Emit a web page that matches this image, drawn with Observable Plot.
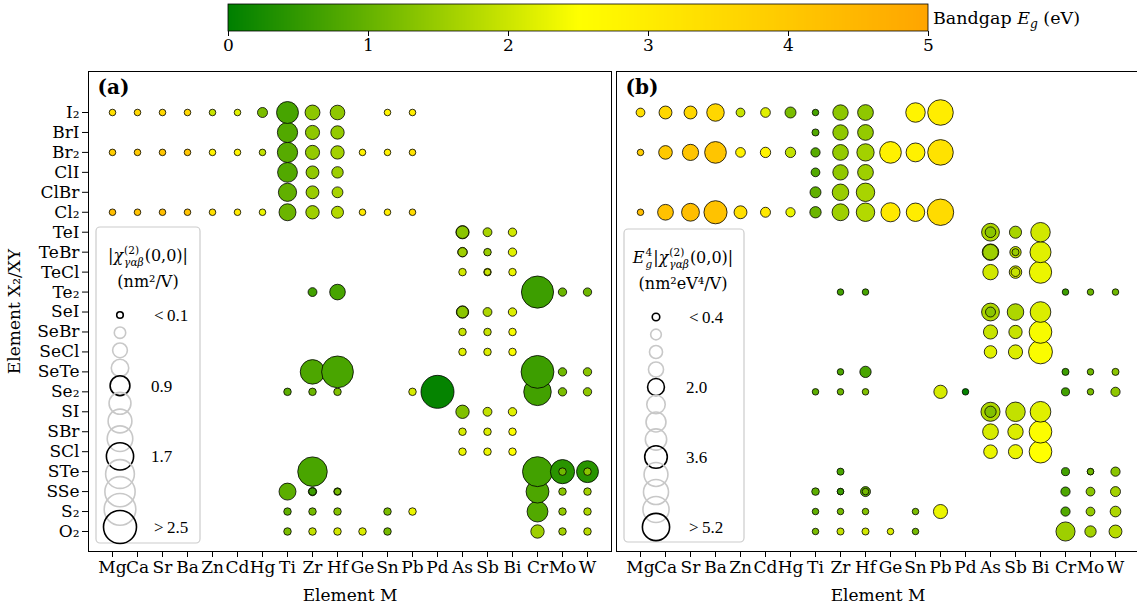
<!DOCTYPE html>
<html><head><meta charset="utf-8">
<script src="https://cdn.jsdelivr.net/npm/d3@7"></script>
<script src="https://cdn.jsdelivr.net/npm/@observablehq/plot@0.6"></script>
<style>
html,body{margin:0;padding:0;background:#fff;overflow:hidden;}
#wrap{position:relative;width:1137px;height:606px;overflow:hidden;background:#fff;font-family:"DejaVu Serif",serif;}
.abs{position:absolute;top:0;}
#cblabel{position:absolute;left:933px;top:10px;font-size:17.5px;line-height:1;white-space:nowrap;}
#cblabel sub{font-size:0.7em;vertical-align:-0.3em;line-height:0;}
</style></head>
<body><div id="wrap"><div id="cblabel">Bandgap <i>E</i><sub><i>g</i></sub> (eV)</div></div>
<script>
// ---- categories ----
const colsM = ["Mg","Ca","Sr","Ba","Zn","Cd","Hg","Ti","Zr","Hf","Ge","Sn","Pb","Pd","As","Sb","Bi","Cr","Mo","W"];
const rowsXY = ["I₂","BrI","Br₂","ClI","ClBr","Cl₂","TeI","TeBr","TeCl","Te₂","SeI","SeBr","SeCl","SeTe","Se₂","SI","SBr","SCl","STe","SSe","S₂","O₂"];

// ---- points (one entry per compound / phase) ----
const pointM = [
  "Mg","Ca","Sr","Ba","Zn","Cd","Hg","Ti","Zr","Hf","Sn","Pb",
  "Ti","Zr","Hf",
  "Mg","Ca","Sr","Ba","Zn","Cd","Hg","Ti","Zr","Hf","Ge","Sn","Pb",
  "Ti","Zr","Hf",
  "Ti","Zr","Hf",
  "Mg","Ca","Sr","Ba","Zn","Cd","Hg","Ti","Zr","Hf","Ge","Sn","Pb",
  "As","As","Sb","Bi",
  "As","As","Sb","Sb","Bi",
  "As","Sb","Sb","Bi",
  "Zr","Hf","Cr","Mo","W",
  "As","As","Sb","Bi",
  "As","Sb","Bi",
  "As","Sb","Bi",
  "Zr","Hf","Cr","Mo","W",
  "Ti","Zr","Hf","Pb","Pd","Cr","Mo","W",
  "As","As","Sb","Bi",
  "As","Sb","Bi",
  "As","Sb","Bi",
  "Zr","Cr","Mo","Mo","W","W",
  "Ti","Zr","Zr","Hf","Hf","Cr","Mo","W",
  "Ti","Zr","Hf","Sn","Pb","Cr","Mo","W",
  "Ti","Zr","Hf","Ge","Sn","Cr","Mo","W"
];
const pointXY = [
  "I₂","I₂","I₂","I₂","I₂","I₂","I₂","I₂","I₂","I₂","I₂","I₂",
  "BrI","BrI","BrI",
  "Br₂","Br₂","Br₂","Br₂","Br₂","Br₂","Br₂","Br₂","Br₂","Br₂","Br₂","Br₂","Br₂",
  "ClI","ClI","ClI",
  "ClBr","ClBr","ClBr",
  "Cl₂","Cl₂","Cl₂","Cl₂","Cl₂","Cl₂","Cl₂","Cl₂","Cl₂","Cl₂","Cl₂","Cl₂","Cl₂",
  "TeI","TeI","TeI","TeI",
  "TeBr","TeBr","TeBr","TeBr","TeBr",
  "TeCl","TeCl","TeCl","TeCl",
  "Te₂","Te₂","Te₂","Te₂","Te₂",
  "SeI","SeI","SeI","SeI",
  "SeBr","SeBr","SeBr",
  "SeCl","SeCl","SeCl",
  "SeTe","SeTe","SeTe","SeTe","SeTe",
  "Se₂","Se₂","Se₂","Se₂","Se₂","Se₂","Se₂","Se₂",
  "SI","SI","SI","SI",
  "SBr","SBr","SBr",
  "SCl","SCl","SCl",
  "STe","STe","STe","STe","STe","STe",
  "SSe","SSe","SSe","SSe","SSe","SSe","SSe","SSe",
  "S₂","S₂","S₂","S₂","S₂","S₂","S₂","S₂",
  "O₂","O₂","O₂","O₂","O₂","O₂","O₂","O₂"
];
// bandgap Eg (eV) -> colour
const pointEg = [
  3.4,3.6,3.6,3.6,1.95,2.2,1.2,0.7,1.38,1.4,2.8,3.0,
  0.8,1.4,1.45,
  3.9,4.0,4.1,4.1,2.85,2.8,1.9,0.85,1.45,1.6,2.9,2.9,3.3,
  0.8,1.42,1.55,
  0.95,1.5,1.65,
  4.3,4.2,4.3,4.2,3.4,3.1,2.3,1.05,1.55,1.75,3.1,3.0,3.5,
  1.7,1.35,1.65,2.05,
  1.65,1.55,1.9,1.5,2.2,
  2.05,2.1,1.95,2.3,
  0.65,0.7,0.6,1.05,1.08,
  1.7,1.35,1.7,2.15,
  1.95,1.95,2.42,
  2.2,2.15,2.45,
  0.75,0.72,0.6,1.1,1.35,
  0.9,1.05,1.25,2.1,0.05,0.65,1.2,1.4,
  1.7,1.25,1.9,2.2,
  2.1,2.15,2.47,
  2.3,2.3,2.5,
  0.72,0.65,0.4,1.1,0.4,1.35,
  0.9,1.1,0.6,0.9,1.15,0.75,1.35,1.6,
  0.95,1.15,1.3,1.2,2.3,0.8,1.45,1.7,
  1.2,1.9,2.05,2.15,1.15,1.55,1.6,1.8
];
// panel (a): |chi(2)(0,0)| (nm^2/V)
const pointChi = [
  0.1,0.1,0.1,0.1,0.1,0.1,0.23,1.10,0.51,0.49,0.1,0.1,
  0.94,0.46,0.41,
  0.1,0.1,0.1,0.1,0.1,0.1,0.1,0.94,0.46,0.41,0.1,0.1,0.1,
  0.90,0.38,0.30,
  0.76,0.38,0.27,
  0.1,0.1,0.1,0.1,0.1,0.1,0.1,0.66,0.41,0.33,0.1,0.1,0.1,
  0.40,0.36,0.18,0.16,
  0.21,0.19,0.1,0.13,0.16,
  0.13,0.13,0.1,0.13,
  0.18,0.56,2.37,0.16,0.16,
  0.35,0.31,0.18,0.16,
  0.13,0.13,0.13,
  0.13,0.13,0.13,
  1.38,2.32,2.47,0.16,0.16,
  0.13,0.13,0.13,0.13,2.6,1.74,0.16,0.16,
  0.3,0.41,0.18,0.16,
  0.13,0.13,0.13,
  0.13,0.13,0.13,
  2.0,2.06,1.34,0.13,1.10,0.13,
  0.66,0.16,0.13,0.13,0.1,1.2,0.13,0.13,
  0.13,0.13,0.13,0.13,0.13,1.0,0.13,0.13,
  0.13,0.13,0.13,0.13,0.13,0.41,0.13,0.13
];
// panel (b): Eg^4 |chi(2)(0,0)| (nm^2 eV^4/V)
const pointChiEg4 = [
  0.54,1.17,1.17,2.15,0.54,0.66,0.85,0.3,1.66,1.74,2.67,4.6,
  0.35,1.66,1.74,
  0.3,1.30,1.84,3.3,0.66,0.75,0.75,0.6,1.74,2.1,3.3,2.5,4.6,
  0.54,1.66,1.74,
  0.85,1.92,2.39,
  0.3,1.74,2.23,3.76,1.17,0.7,0.6,0.9,2.0,2.39,2.57,2.39,4.9,
  2.23,0.8,1.03,2.67,
  1.92,1.7,0.9,0.35,3.1,
  1.66,1.1,0.54,3.5,
  0.3,0.3,0.3,0.3,0.3,
  2.23,0.7,1.92,3.0,
  1.4,1.24,3.6,
  1.1,1.4,4.0,
  0.3,0.9,0.35,0.3,0.35,
  0.3,0.3,0.3,1.24,0.3,0.45,0.3,0.6,
  2.57,0.9,2.67,3.0,
  1.74,1.66,3.6,
  1.3,1.4,3.6,
  0.35,0.45,0.3,0.3,0.3,0.6,
  0.4,0.3,0.3,0.7,0.3,0.6,0.54,0.7,
  0.3,0.3,0.3,0.3,1.4,0.6,0.54,0.8,
  0.3,0.35,0.35,0.3,0.3,2.57,0.9,1.17
];

// ---- legends ----
const legendValuesA = [0.1,0.3,0.5,0.7,0.9,1.1,1.3,1.5,1.7,1.9,2.1,2.3,2.5];
const legendLabelsA = ["<\u20090.1","","","","0.9","","","","1.7","","","",">\u20092.5"];
const legendValuesB = [0.4,0.8,1.2,1.6,2.0,2.4,2.8,3.2,3.6,4.0,4.4,4.8,5.2];
const legendLabelsB = ["<\u20090.4","","","","2.0","","","","3.6","","","",">\u20095.2"];
const colorTicks = [0,1,2,3,4,5];

// ---- build table ----
const rowIndex = new Map(rowsXY.map((r, i) => [r, i]));
const table = pointM.map((m, i) => ({M: m, XY: pointXY[i], row: rowIndex.get(pointXY[i]), Eg: pointEg[i], chi: pointChi[i], chiEg4: pointChiEg4[i], order: i}));
table.sort((a, b) => b.row - a.row || a.order - b.order);

const colorScale = {type: "linear", domain: [0, 2.5, 5], range: ["#008000", "#ffff00", "#ffa500"], interpolate: "rgb", clamp: true};
const rA = {type: "sqrt", domain: [0, 2.5], range: [0, 16.5], clamp: true};
const rB = {type: "sqrt", domain: [0, 5.2], range: [0, 13.6], clamp: true};

function panel({w, mL, mR, rScale, field, tag, showY}) {
  // row index scale: row 0 sits 2.05 rows below the frame top, last row 1 row above the frame bottom
  const yBase = {type: "linear", domain: [rowsXY.length - 1 + 1.0025, -2.055]};
  return Plot.plot({
    width: w, height: 606,
    marginTop: 71, marginBottom: 55, marginLeft: mL, marginRight: mR,
    style: {fontFamily: '"DejaVu Serif", serif', fontSize: "17px", background: "transparent", color: "black", overflow: "visible"},
    x: {type: "point", domain: colsM, padding: 0, insetLeft: 23.7, insetRight: 24, tickSize: 6, tickPadding: 3, label: "Element M", labelAnchor: "center", labelOffset: 49},
    y: showY ? {...yBase, ticks: rowsXY.map((_, i) => i), tickFormat: i => rowsXY[i], tickSize: 6, tickPadding: 3,
                label: "Element X₂/XY", labelAnchor: "center", labelOffset: 81, labelArrow: "none"} : {...yBase, axis: null},
    r: rScale,
    color: colorScale,
    marks: [
      Plot.frame({stroke: "black", strokeWidth: 1}),
      Plot.dot(table, {x: "M", y: "row", r: field, fill: d => d.Eg, stroke: "black", strokeWidth: 0.8, sort: null}),
      Plot.text([tag], {text: d => d, frameAnchor: "top-left", dx: 9, dy: 8, lineAnchor: "top", textAnchor: "start", fontWeight: "bold", fontSize: 20})
    ]
  });
}

const wrap = document.getElementById("wrap");
const plotA = panel({w: 613, mL: 88, mR: 2, rScale: rA, field: "chi", tag: "(a)", showY: true});
const plotB = panel({w: 528, mL: 3, mR: 2, rScale: rB, field: "chiEg4", tag: "(b)", showY: false});
const divA = document.createElement("div"); divA.className = "abs"; divA.style.left = "0px"; divA.style.width = "613px"; divA.appendChild(plotA); wrap.appendChild(divA);
const divB = document.createElement("div"); divB.className = "abs"; divB.style.left = "613px"; divB.style.width = "528px"; divB.appendChild(plotB); wrap.appendChild(divB);

// math-like text line with stacked super/subscripts
function mathLine(g, cx, y, parts, size) {
  const t = g.append("g").attr("font-family", '"DejaVu Serif", serif').attr("text-anchor", "start");
  let x = 0;
  for (const p of parts) {
    if (p.sup !== undefined || p.sub !== undefined) {
      let w = 0;
      if (p.sup !== undefined) { const e = t.append("text").attr("x", x).attr("y", y - size * 0.45).attr("font-size", size * 0.66).text(p.sup); w = Math.max(w, e.node().getComputedTextLength()); }
      if (p.sub !== undefined) { const e = t.append("text").attr("x", x).attr("y", y + size * 0.3).attr("font-size", size * 0.66).attr("font-style", "italic").text(p.sub); w = Math.max(w, e.node().getComputedTextLength()); }
      x += w + 1;
    } else {
      const e = t.append("text").attr("x", x).attr("y", y).attr("font-size", size).attr("font-style", p.italic ? "italic" : null).text(p.t);
      x += e.node().getComputedTextLength() + (p.italic ? 1 : 0);
    }
  }
  t.attr("transform", `translate(${cx - x / 2},0)`);
}

function sizeLegend(plot, offsetX, cfg) {
  const rs = Plot.scale({r: plot.scale("r")});
  const g = d3.select(plot).append("g").attr("transform", `translate(${-offsetX},0)`).attr("text-anchor", "start");
  g.append("rect").attr("x", cfg.box[0]).attr("y", cfg.box[1]).attr("width", cfg.box[2]).attr("height", cfg.box[3])
    .attr("rx", 4).attr("fill", "white").attr("fill-opacity", 0.8).attr("stroke", "#cccccc").attr("stroke-width", 1.2);
  cfg.values.forEach((v, i) => {
    const cy = cfg.cy0 + i * cfg.step;
    const lab = cfg.labels[i];
    g.append("circle").attr("cx", cfg.cx).attr("cy", cy).attr("r", rs.apply(v)).attr("fill", "none")
      .attr("stroke", lab ? "black" : "#c8c8c8").attr("stroke-width", 1.6);
    if (lab) g.append("text").attr("x", lab.length > 3 ? cfg.lx + 3 : cfg.lx).attr("y", cy).attr("dy", "0.36em")
      .attr("font-family", '"Liberation Serif", serif').attr("font-size", 17).text(lab);
  });
  mathLine(g, cfg.tx, cfg.ty1, cfg.title1, 16);
  g.append("text").attr("x", cfg.tx).attr("y", cfg.ty2).attr("text-anchor", "middle").attr("font-family", '"DejaVu Serif", serif').attr("font-size", 16).text(cfg.title2);
}

sizeLegend(plotA, 0, {
  box: [96, 227, 104, 316], cx: 120, cy0: 315, step: 17.67, lx: 151,
  values: legendValuesA, labels: legendLabelsA,
  tx: 148, ty1: 261, ty2: 287,
  title1: [{t: "|"}, {t: "χ", italic: true}, {sup: "(2)", sub: "γαβ"}, {t: "(0,0)|"}],
  title2: "(nm²/V)"
});
sizeLegend(plotB, 613, {
  box: [624, 229, 120, 313], cx: 656, cy0: 317, step: 17.5, lx: 686,
  values: legendValuesB, labels: legendLabelsB,
  tx: 683, ty1: 263, ty2: 289,
  title1: [{t: "E", italic: true}, {sup: "4", sub: "g"}, {t: "|"}, {t: "χ", italic: true}, {sup: "(2)", sub: "γαβ"}, {t: "(0,0)|"}],
  title2: "(nm²eV⁴/V)"
});

// ---- colour bar ----
const cb = Plot.legend({
  color: colorScale,
  width: 1137, height: 60, marginLeft: 228, marginRight: 209, marginTop: 4, marginBottom: 29,
  ticks: colorTicks, tickFormat: d => String(d), tickSize: 5, label: null,
  style: {fontFamily: '"DejaVu Serif", serif', fontSize: "17px", background: "transparent", color: "black"}
});
const cbDiv = document.createElement("div"); cbDiv.className = "abs"; cbDiv.style.left = "0px"; cbDiv.style.width = "1137px";
cbDiv.appendChild(cb); wrap.appendChild(cbDiv);
d3.select(cb).selectAll(".tick line").attr("y1", 0);
d3.select(cb).append("rect").attr("x", 228).attr("y", 4).attr("width", 700).attr("height", 27).attr("fill", "none").attr("stroke", "black").attr("stroke-width", 0.8);
</script>
</body></html>
